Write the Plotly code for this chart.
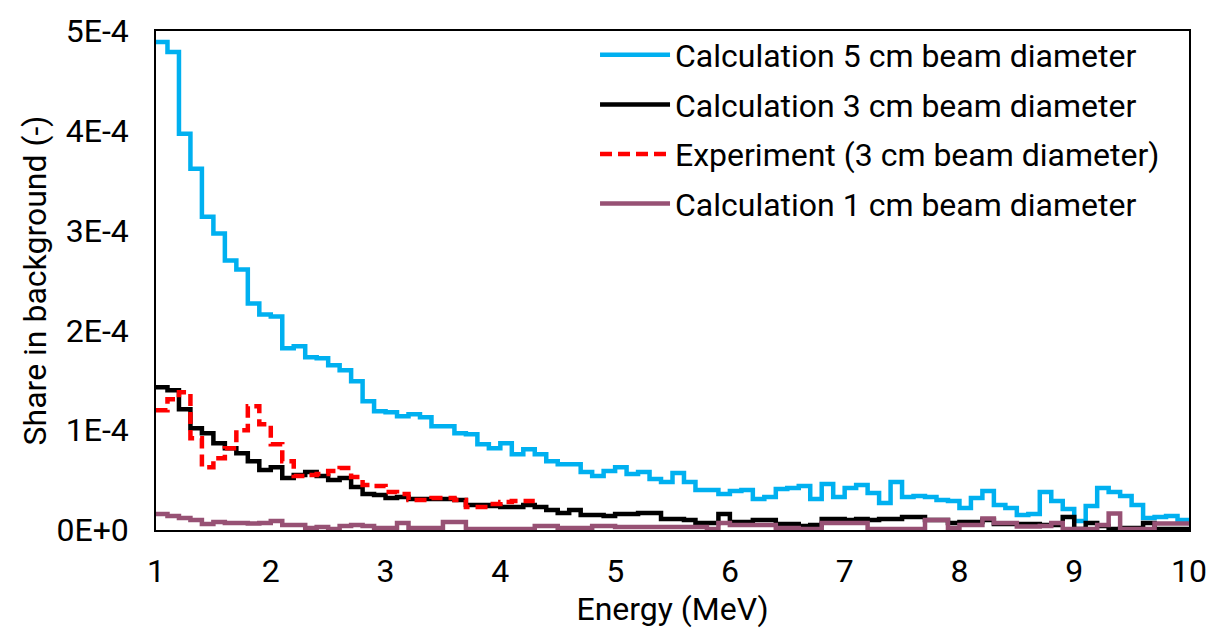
import numpy as np
import plotly.graph_objects as go

# Energy bin left edges (MeV), 0.1 MeV bins from 1 to 10
energy_edges = [round(1.0 + 0.1 * i, 1) for i in range(91)]

# Values in units of 1E-4 (share in background)
calc_5cm = [4.89, 4.79, 3.97, 3.62, 3.14, 2.97, 2.70, 2.61, 2.27, 2.16,
            2.14, 1.82, 1.84, 1.73, 1.72, 1.65, 1.60, 1.49, 1.29, 1.19,
            1.18, 1.14, 1.16, 1.13, 1.04, 1.04, 0.97, 0.96, 0.86, 0.82,
            0.87, 0.76, 0.81, 0.76, 0.69, 0.66, 0.66, 0.58, 0.54, 0.59,
            0.63, 0.56, 0.58, 0.51, 0.48, 0.57, 0.48, 0.40, 0.40, 0.36,
            0.39, 0.40, 0.31, 0.33, 0.41, 0.42, 0.44, 0.31, 0.46, 0.33,
            0.42, 0.45, 0.37, 0.27, 0.48, 0.33, 0.34, 0.33, 0.30, 0.29,
            0.22, 0.32, 0.39, 0.25, 0.22, 0.15, 0.16, 0.38, 0.29, 0.21,
            0.09, 0.24, 0.42, 0.38, 0.34, 0.25, 0.12, 0.13, 0.14, 0.10]

calc_3cm = [1.43, 1.40, 1.21, 1.02, 0.97, 0.87, 0.82, 0.77, 0.69, 0.60,
            0.63, 0.52, 0.55, 0.58, 0.54, 0.50, 0.52, 0.43, 0.36, 0.35,
            0.32, 0.33, 0.31, 0.31, 0.31, 0.31, 0.30, 0.25, 0.25, 0.24,
            0.23, 0.23, 0.25, 0.23, 0.20, 0.17, 0.20, 0.15, 0.15, 0.14,
            0.16, 0.16, 0.17, 0.17, 0.11, 0.11, 0.10, 0.07, 0.07, 0.16,
            0.08, 0.08, 0.10, 0.10, 0.06, 0.06, 0.04, 0.05, 0.11, 0.11,
            0.10, 0.11, 0.10, 0.11, 0.11, 0.13, 0.13, 0.10, 0.10, 0.07,
            0.08, 0.08, 0.10, 0.06, 0.06, 0.06, 0.06, 0.05, 0.05, 0.13,
            0.01, 0.07, 0.04, 0.01, 0.02, 0.02, 0.07, 0.01, 0.01, 0.01]

experiment_3cm = [1.20, 1.31, 1.38, 0.92, 0.63, 0.72, 0.82, 1.00, 1.24, 1.06,
                  0.86, 0.69, 0.54, 0.55, 0.56, 0.59, 0.62, 0.53, 0.45, 0.44,
                  0.38, 0.36, 0.30, 0.30, 0.32, 0.32, 0.30, 0.23, 0.23, 0.26,
                  0.28, 0.29, 0.29]

calc_1cm = [0.16, 0.14, 0.12, 0.10, 0.06, 0.08, 0.07, 0.07, 0.065, 0.07,
            0.09, 0.05, 0.05, 0.02, 0.03, 0.01, 0.04, 0.05, 0.04, 0.02,
            0.02, 0.07, 0.02, 0.02, 0.02, 0.08, 0.08, 0.01, 0.01, 0.01,
            0.01, 0.01, 0.01, 0.04, 0.04, 0.02, 0.02, 0.02, 0.04, 0.04,
            0.03, 0.03, 0.03, 0.03, 0.03, 0.03, 0.03, 0.03, 0.01, 0.07,
            0.05, 0.05, 0.05, 0.05, 0.02, 0.02, 0.01, 0.01, 0.07, 0.07,
            0.07, 0.07, 0.01, 0.01, 0.01, 0.01, 0.01, 0.10, 0.10, 0.02,
            0.05, 0.05, 0.115, 0.07, 0.07, 0.035, 0.035, 0.04, 0.07, 0.01,
            0.01, 0.01, 0.05, 0.165, 0.01, 0.01, 0.01, 0.066, 0.066, 0.066]

y_tick_vals = [0, 1e-4, 2e-4, 3e-4, 4e-4, 5e-4]
y_tick_text = ["0E+0", "1E-4", "2E-4", "3E-4", "4E-4", "5E-4"]
x_tick_vals = [1, 2, 3, 4, 5, 6, 7, 8, 9, 10]

UNIT = 1e-4
FONT = "Roboto, Arial, sans-serif"
FS = 32

series = [
    ("Calculation 5 cm beam diameter", calc_5cm, "#00B0F0", "solid"),
    ("Calculation 3 cm beam diameter", calc_3cm, "#000000", "solid"),
    ("Experiment (3 cm beam diameter)", experiment_3cm, "#FF0000", "12px,6px"),
    ("Calculation 1 cm beam diameter", calc_1cm, "#975174", "solid"),
]

fig = go.Figure()
for i, (name, vals, color, dash) in enumerate(series):
    n = len(vals)
    xs = energy_edges[: n + 1]
    ys = [v * UNIT for v in vals] + [vals[-1] * UNIT]
    fig.add_trace(go.Scatter(
        x=xs, y=ys, name=name, mode="lines",
        line=dict(shape="hv", color=color, width=4.5, dash=dash),
        legendgroup=f"g{i}",
    ))

fig.update_layout(
    width=1219, height=630,
    margin=dict(l=156, r=22, t=22, b=100),
    paper_bgcolor="white", plot_bgcolor="white",
    font=dict(family=FONT, size=FS, color="black"),
    showlegend=True,
    legend=dict(
        x=0.425, y=1.007, xanchor="left", yanchor="top",
        font=dict(family=FONT, size=FS, color="black"),
        bgcolor="rgba(0,0,0,0)", tracegroupgap=5, itemwidth=70,
    ),
    xaxis=dict(
        range=[1, 10], tickvals=x_tick_vals, showgrid=False, zeroline=False,
        showline=True, linecolor="black", linewidth=1.5, mirror=True,
        ticks="", ticklabelstandoff=12, tickfont=dict(size=FS),
        title=dict(text="Energy (MeV)", standoff=2, font=dict(size=FS)),
    ),
    yaxis=dict(
        range=[0, 5e-4], tickvals=y_tick_vals, ticktext=y_tick_text,
        showgrid=False, zeroline=False,
        showline=True, linecolor="black", linewidth=1.5, mirror=True,
        ticks="", ticklabelstandoff=19, tickfont=dict(size=FS),
        title=dict(text="Share in background (-)", standoff=0, font=dict(size=FS)),
    ),
)

fig.write_html("out.html")
